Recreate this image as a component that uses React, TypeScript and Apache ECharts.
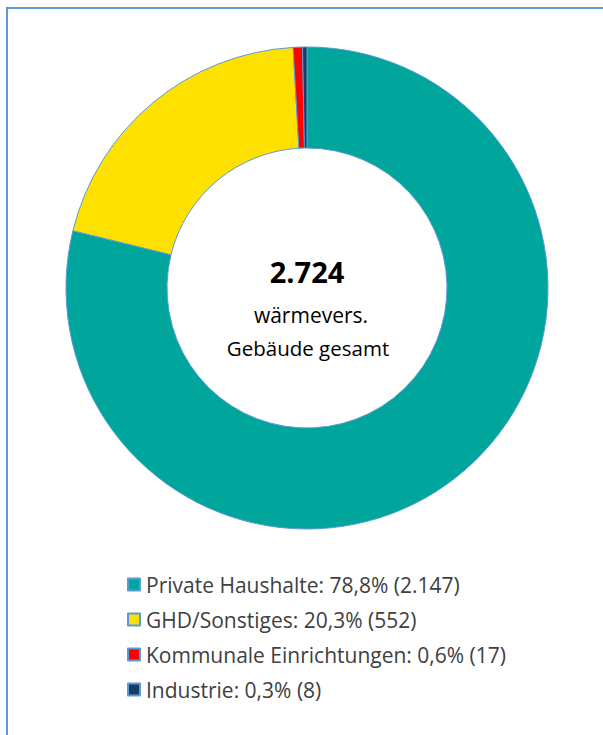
import React, { useEffect, useRef } from "react";
import * as echarts from "echarts";

const categories = ["Private Haushalte", "GHD/Sonstiges", "Kommunale Einrichtungen", "Industrie"];
const values = [2147, 552, 17, 8];
const colors = ["#00A59B", "#FFE100", "#FF0000", "#183D64"];
const centerLines = ["wärmevers.", "Gebäude gesamt"];

const fmt = (n: number) => n.toLocaleString("de-DE");

export default function App() {
  const ref = useRef<HTMLDivElement>(null);
  useEffect(() => {
    if (!ref.current) return;
    const chart = echarts.init(ref.current, null, { renderer: "svg" });
    const total = values.reduce((a, b) => a + b, 0);
    const pct = (v: number) => ((v / total) * 100).toFixed(1).replace(".", ",");
    const font = "'Open Sans'";
    chart.setOption({
      animation: false,
      backgroundColor: "#ffffff",
      color: colors,
      legend: {
        orient: "vertical",
        left: 122,
        top: 569,
        itemWidth: 12,
        itemHeight: 12,
        itemGap: 14,
        icon: "rect",
        textStyle: { fontFamily: font, fontSize: 21, color: "#404040", padding: [0, 0, 0, 1] },
        formatter: (name: string) => {
          const i = categories.indexOf(name);
          return `${name}: ${pct(values[i])}% (${fmt(values[i])})`;
        },
        data: categories,
      },
      graphic: [
        {
          type: "rect",
          shape: { x: 7, y: 8, width: 700, height: 800 },
          style: { fill: "none", stroke: "#5B9BD5", lineWidth: 2 },
          silent: true,
        },
        {
          type: "text",
          x: 307,
          y: 271,
          style: {
            text: fmt(total),
            font: `bold 29px ${font}`,
            fill: "#000000",
            textAlign: "center",
            textVerticalAlign: "middle",
          },
        },
        {
          type: "text",
          x: 311,
          y: 315,
          style: {
            text: centerLines[0],
            font: `21px ${font}`,
            fill: "#000000",
            textAlign: "center",
            textVerticalAlign: "middle",
          },
        },
        {
          type: "text",
          x: 308,
          y: 348,
          style: {
            text: centerLines[1],
            font: `20.5px ${font}`,
            fill: "#000000",
            textAlign: "center",
            textVerticalAlign: "middle",
          },
        },
      ],
      series: [
        {
          type: "pie",
          center: [307, 288],
          radius: [140, 241],
          startAngle: 90,
          clockwise: true,
          avoidLabelOverlap: false,
          label: { show: false },
          labelLine: { show: false },
          emphasis: { disabled: true },
          itemStyle: { borderColor: "#5B9BD5", borderWidth: 1 },
          data: categories.map((c, i) => ({ name: c, value: values[i] })),
        },
      ],
    });
    return () => chart.dispose();
  }, []);
  return (
    <div
      ref={ref}
      style={{ position: "absolute", left: 0, top: 0, width: 603, height: 735 }}
    />
  );
}
